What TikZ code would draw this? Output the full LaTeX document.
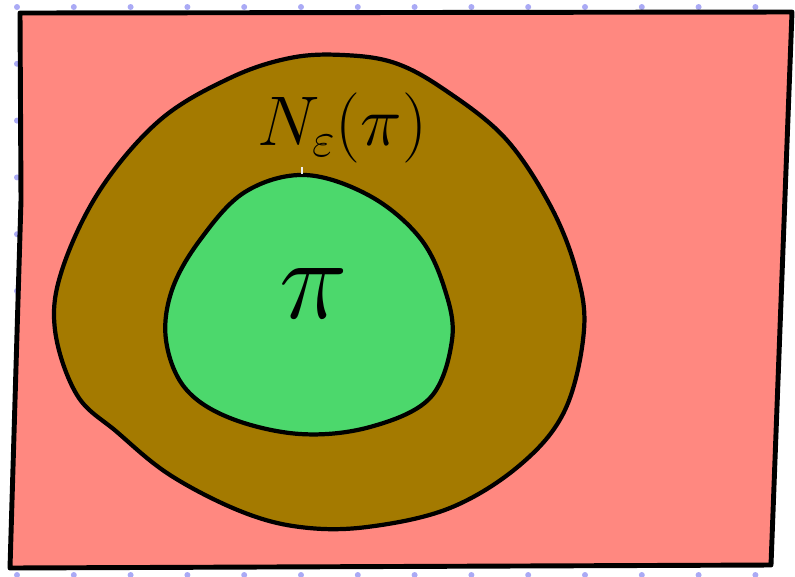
\RequirePackage{fix-cm}
\documentclass[tikz,border=0pt]{standalone}
\usepackage{tikz}
\usetikzlibrary{calc}

\definecolor{outside}{HTML}{FF8880}
\definecolor{nbhd}{HTML}{A47A00}
\definecolor{inner}{HTML}{4CD86C}
\definecolor{griddot}{HTML}{AAAAF5}

\tikzset{
  outline/.style={draw=black, line width=2.4pt, line join=round},
  blob/.style={outline, smooth cycle, tension=0.6},
  label/.style={inner sep=0pt, text=black}
}

\begin{document}
\begin{tikzpicture}[x=0.02cm, y=-0.02cm]

% Keep the page at the size of the sketch
\useasboundingbox (0,0) rectangle (795,576);

% Dots of the paper grid, behind everything
\foreach \i in {0,...,13} {
  \foreach \j in {0,...,10} {
    \fill[griddot] ({17+56.8*\i},{7+56.8*\j}) circle (3);
  }
}

% Corners of the whole space
\coordinate (TL) at (20,13);
\coordinate (TR) at (792,12);
\coordinate (BR) at (771,565);
\coordinate (BL) at (10,568);

% Draw the whole space
\filldraw[outline, fill=outside, line width=2.8pt]
  (TL) -- (TR) -- (BR) -- (BL) -- (21,200) -- cycle;

% Draw the neighbourhood blob
\filldraw[fill=nbhd, outline] plot[blob] coordinates {
  (343,55) (395,63) (445,90) (505,138) (550,205) (576,270)
  (584,330) (565,410) (520,465) (450,508) (367,527)
  (300,527) (240,511) (170,475) (117,432) (77,395)
  (55,330) (62,270) (100,190) (160,120) (230,78) (290,58)
};

% Draw the inner set
\filldraw[fill=inner, outline] plot[blob] coordinates {
  (305,175) (370,196) (420,238) (445,290) (452,340)
  (430,398) (370,427) (300,434) (230,418) (185,388)
  (166,340) (172,290) (200,240) (245,192)
};

% Small white tick under the subscript
\draw[white!90!gray, line width=1.2pt] (302,167) -- (302,174);

% Labels
\node[label, font=\fontsize{40}{44}\selectfont] (nlabel) at (342,128)
  {$N_{\varepsilon}(\pi)$};
\node[label, font=\fontsize{66}{70}\selectfont] (pilabel) at (314,294)
  {$\pi$};

\end{tikzpicture}
\end{document}
